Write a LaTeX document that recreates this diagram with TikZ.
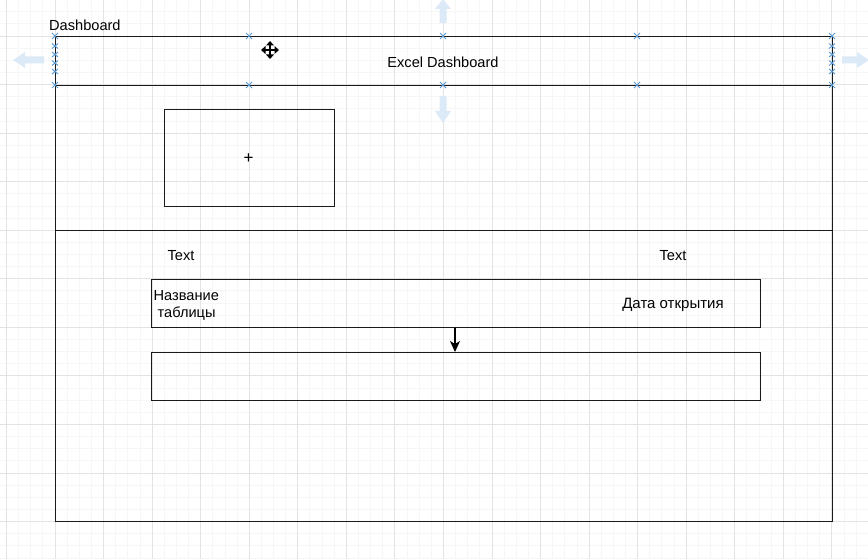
\documentclass[tikz,border=0pt]{standalone}
\usepackage{fontspec}
\setmainfont{Liberation Sans}
\usetikzlibrary{arrows.meta}
\definecolor{minorc}{HTML}{F6F6F6}
\definecolor{majorc}{HTML}{E3E3E3}
\definecolor{handle}{HTML}{5B9BD5}
\definecolor{hover}{HTML}{DCEAF7}
\definecolor{linec}{HTML}{1A1A1A}
\tikzset{
  box/.style={draw=linec, line width=1.4pt, rectangle, inner sep=0pt, anchor=north west, font=\fontsize{14.6}{17}\selectfont},
  lbl/.style={font=\fontsize{14.6}{17}\selectfont, inner sep=0pt, text=black},
  minorgrid/.style={draw=minorc, line width=0.8pt},
  majorgrid/.style={draw=majorc, line width=0.9pt},
  hmark/.style={draw=handle, line width=0.9pt},
  hoverarrow/.style={fill=hover, draw=none},
  conn/.style={draw=black, line width=1.2pt, -{Stealth[length=11pt,width=10pt,inset=3pt]}}
}
\begin{document}
\begin{tikzpicture}[x=1pt,y=-1pt]
\useasboundingbox (0,0) rectangle (868,559);
\fill[white] (0,0) rectangle (868,559);
\begin{scope}
\clip (0,0) rectangle (868,559);
% grid
\foreach \i in {-1,...,72} \draw[minorgrid] ({6.45+\i*12.1375},0) -- ({6.45+\i*12.1375},559);
\foreach \j in {-3,...,44} \draw[minorgrid] (0,{36+\j*12.1375}) -- (868,{36+\j*12.1375});
\foreach \i in {0,...,18} \draw[majorgrid] ({6.45+\i*48.55},0) -- ({6.45+\i*48.55},559);
\foreach \j in {-1,...,11} \draw[majorgrid] (0,{36+\j*48.55}) -- (868,{36+\j*48.55});
% hover arrows
\fill[hoverarrow] (443,-1) -- (451,9) -- (446.5,9) -- (446.5,23) -- (439.5,23) -- (439.5,9) -- (435,9) -- cycle;
\fill[hoverarrow] (443,123) -- (451,111) -- (446.5,111) -- (446.5,96) -- (439.5,96) -- (439.5,111) -- (435,111) -- cycle;
\fill[hoverarrow] (13,60) -- (25,52) -- (25,56.5) -- (44,56.5) -- (44,63.5) -- (25,63.5) -- (25,68) -- cycle;
\fill[hoverarrow] (869,60) -- (857,52) -- (857,56.5) -- (842,56.5) -- (842,63.5) -- (857,63.5) -- (857,68) -- cycle;
\end{scope}

% main shapes
\node[lbl, anchor=west] (dash) at (49,25) {Dashboard};
\node[box, minimum width=777pt, minimum height=49pt] (hdr) at (55,36) {};
\node[lbl] (hdrtext) at (443,62) {Excel Dashboard};
\node[box, minimum width=777pt, minimum height=145pt] (top) at (55,85) {};
\node[box, minimum width=777pt, minimum height=291pt] (bottom) at (55,230) {};
\node[box, minimum width=170pt, minimum height=97pt] (chart) at (164,109) {};
\node[lbl, font=\fontsize{17}{17}\selectfont] (plus) at (248.5,158.5) {+};

\node[lbl] (t1) at (181,256) {Text};
\node[lbl] (t2) at (673,256) {Text};

\node[box, minimum width=609pt, minimum height=48pt] (r1) at (151,279) {};
\node[box, minimum width=609pt, minimum height=48pt] (r2) at (151,352) {};
\node[lbl, anchor=west, align=left] (name) at (153.5,305.5) {Название\\\hspace*{4pt}таблицы};
\node[lbl, font=\fontsize{15}{17}\selectfont] (date) at (673,305) {Дата открытия};

\path (r1.south west) ++(304,0) coordinate (as);
\draw[conn] (as) -- (as |- r2.north);

% selection handles
\foreach \x in {55,249,443,637,832} {
  \foreach \y in {36,85} {
    \draw[hmark] (\x-3,\y-3) -- (\x+3,\y+3) (\x-3,\y+3) -- (\x+3,\y-3);
  }
}
\foreach \x in {55,832} {
  \foreach \y in {46,54.5,63,71.5} {
    \draw[hmark] (\x-3,\y-2.5) -- (\x+3,\y+2.5) (\x-3,\y+2.5) -- (\x+3,\y-2.5);
  }
}

% move cursor
\begin{scope}[shift={(270,50)}]
  \fill[black] (-1.4,-5) rectangle (1.4,5);
  \fill[black] (-5,-1.4) rectangle (5,1.4);
  \fill[black] (0,-9) -- (4,-4.5) -- (-4,-4.5) -- cycle;
  \fill[black] (0,9) -- (4,4.5) -- (-4,4.5) -- cycle;
  \fill[black] (-9,0) -- (-4.5,4) -- (-4.5,-4) -- cycle;
  \fill[black] (9,0) -- (4.5,4) -- (4.5,-4) -- cycle;
\end{scope}
\end{tikzpicture}
\end{document}
